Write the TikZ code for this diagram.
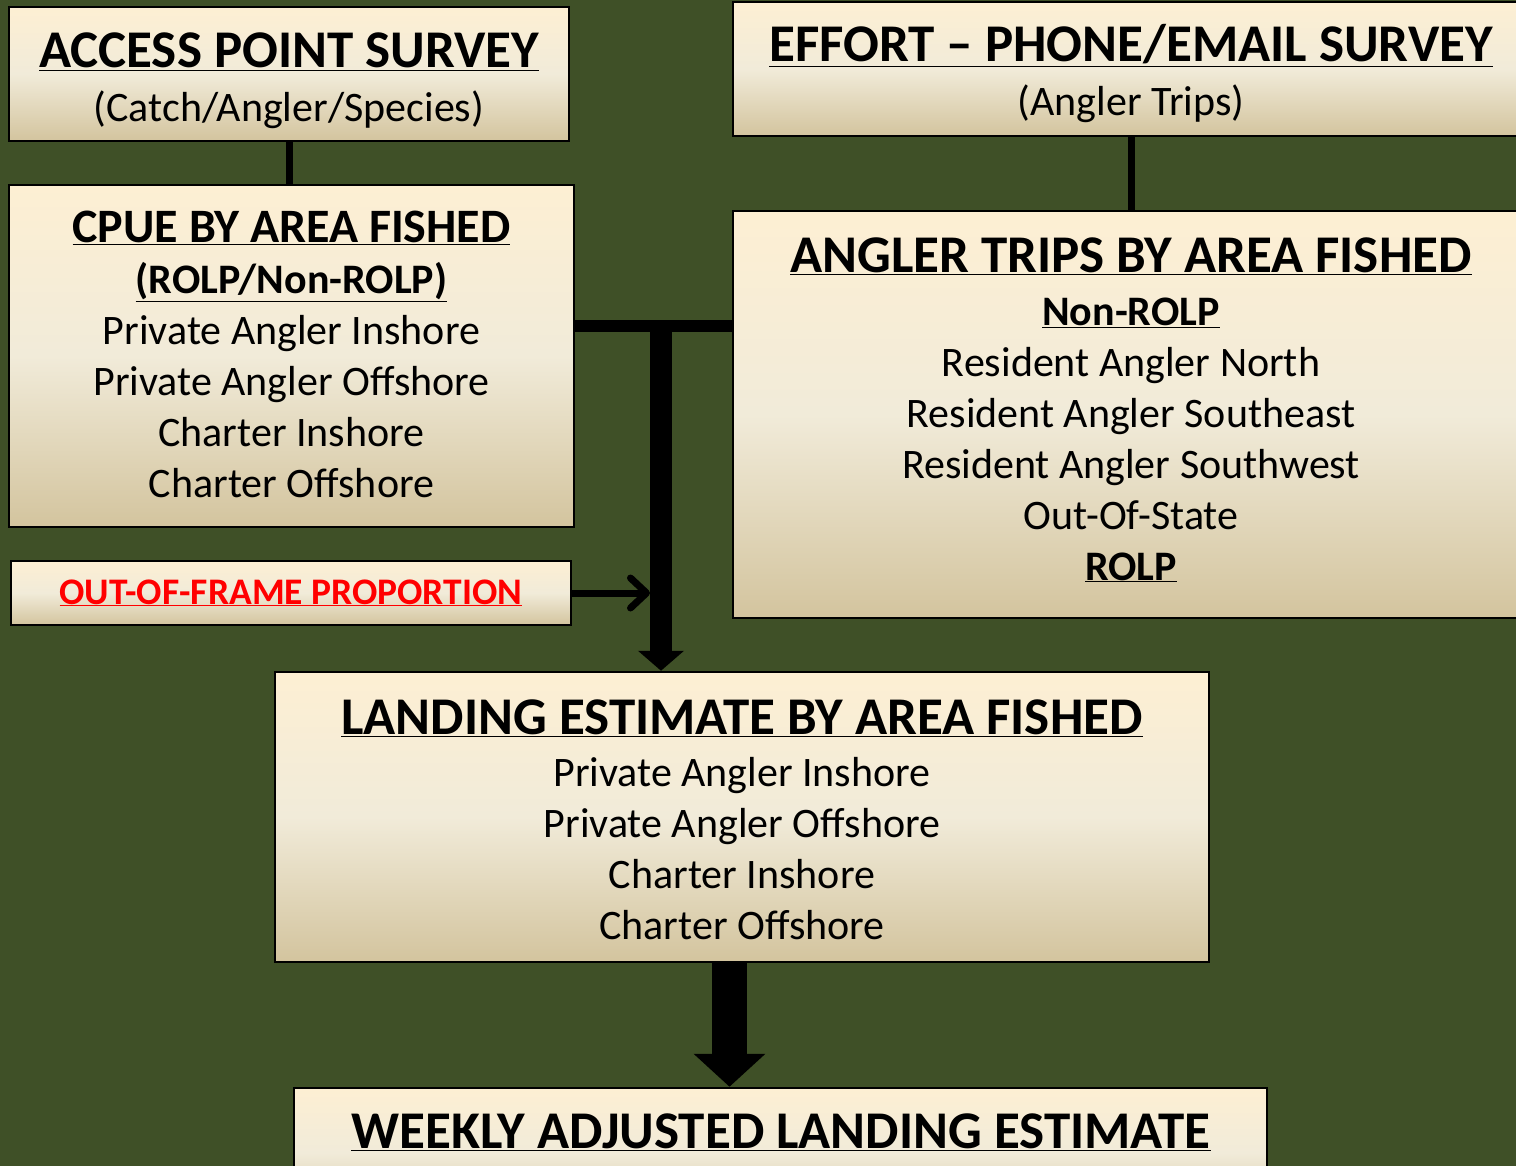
\documentclass[tikz,border=0pt]{standalone}
\usepackage{fontspec}
\setmainfont{Carlito}
\usetikzlibrary{arrows.meta}
\definecolor{bggreen}{HTML}{3F5027}
\definecolor{boxtop}{HTML}{FDEFD3}
\definecolor{boxmid}{HTML}{F1EBD9}
\definecolor{boxbot}{HTML}{D3C49E}
\definecolor{oofred}{HTML}{FF0000}
\newcommand{\headfont}{\fontsize{53}{51}\selectfont\bfseries}
\newcommand{\subfont}{\fontsize{42}{51}\selectfont\bfseries}
\newcommand{\ul}[1]{\underline{#1}}
\begin{document}
\begin{tikzpicture}
    [x=1pt,y=-1pt,
     box/.style={draw=black,line width=2.5pt,rectangle,top color=boxtop,bottom color=boxbot,middle color=boxmid,inner sep=0pt},
     txt/.style={align=center,anchor=base,inner sep=0pt,font=\fontsize{42}{51}\selectfont},
     link/.style={line width=7pt},
     bar/.style={line width=12pt},
     fat/.style={line width=22pt,-{Triangle[width=45pt,length=20pt]}},
     fatter/.style={line width=35pt,-{Triangle[width=70pt,length=33pt]}},
     feed/.style={line width=7pt,-{Straight Barb[round,length=16pt,width=30pt]}}]
    \useasboundingbox (0,0) rectangle (1516,1166);
    \clip (0,0) rectangle (1516,1166);
    \fill[bggreen] (0,0) rectangle (1516,1166);

    % boxes
    \node[box,minimum width=560pt,minimum height=134pt] (access) at (289,74) {};
    \node[box,minimum width=796pt,minimum height=134pt] (effort) at (1131,69) {};
    \node[box,minimum width=565pt,minimum height=342pt] (cpue) at (291.5,356) {};
    \node[box,minimum width=796pt,minimum height=407pt] (trips) at (1131,414.5) {};
    \node[box,minimum width=560pt,minimum height=64pt] (oof) at (291,593) {};
    \node[box,minimum width=934pt,minimum height=290pt] (landing) at (742,817) {};
    \node[box,minimum width=973pt,minimum height=130pt] (weekly) at (780.5,1153) {};

    % texts (anchored at the baseline of their last line)
    \node[txt] (accesstxt) at (289,122) {{\headfont\ul{ACCESS POINT SURVEY}}\\[3pt](Catch/Angler/Species)};
    \node[txt] (efforttxt) at (1131,116) {{\headfont\ul{EFFORT -- PHONE/EMAIL SURVEY}}\\[3pt](Angler Trips)};
    \node[txt] (cpuetxt) at (291.5,497) {{\fontsize{48}{51}\selectfont\bfseries\ul{CPUE BY AREA FISHED}}\\
        {\subfont\ul{(ROLP/Non-ROLP)}}\\Private Angler Inshore\\Private Angler Offshore\\Charter Inshore\\Charter Offshore};
    \node[txt] (tripstxt) at (1131,580) {{\headfont\ul{ANGLER TRIPS BY AREA FISHED}}\\[2pt]
        {\subfont\ul{Non-ROLP}}\\Resident Angler North\\Resident Angler Southeast\\Resident Angler Southwest\\Out-Of-State\\{\subfont\ul{ROLP}}};
    \node[txt,text=oofred,font=\fontsize{37.5}{44}\selectfont\bfseries] (ooftxt) at (291,604) {\ul{OUT-OF-FRAME PROPORTION}};
    \node[txt] (landingtxt) at (742,939) {{\headfont\ul{LANDING ESTIMATE BY AREA FISHED}}\\[1pt]
        Private Angler Inshore\\Private Angler Offshore\\Charter Inshore\\Charter Offshore};
    \node[txt] (weeklytxt) at (781,1148) {{\headfont\ul{WEEKLY ADJUSTED LANDING ESTIMATE}}};

    % connectors
    \coordinate (join) at (661,326);
    \coordinate (shaftside) at (650,593);
    \coordinate (drop) at (729.5,0);
    \draw[link] (access.south) -- (access.south |- cpue.north);
    \draw[link] (effort.south) -- (trips.north);
    \draw[bar] (cpue.east |- join) -- (trips.west |- join);
    \draw[fat] (join) -- (join |- landing.north);
    \draw[feed] (oof.east) -- (shaftside);
    \draw[fatter] (landing.south -| drop) -- (weekly.north -| drop);
  \end{tikzpicture}
\end{document}
